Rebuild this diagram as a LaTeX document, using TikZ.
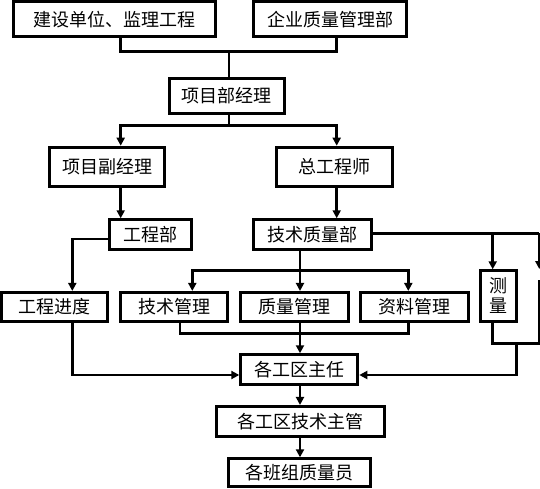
\documentclass[tikz,border=0pt]{standalone}
\usepackage{fontspec}
\newfontfamily\cjk{Noto Sans CJK SC}
\usetikzlibrary{arrows.meta}
\begin{document}
\begin{tikzpicture}[x=1pt,y=-1pt,
  box/.style={draw=black,line width=3pt,inner sep=0pt,fill=white,font=\cjk\fontsize{18}{21}\selectfont},
  conn/.style={draw=black,line width=2.8pt},
  arr/.style={conn,-{Triangle[width=8pt,length=8pt]}}]
\useasboundingbox (0,0) rectangle (540,489);
% boxes
\node[box,minimum width=202.6pt,minimum height=35.3pt] (b1) at (114.5,19.2) {建设单位、监理工程};
\node[box,minimum width=153pt,minimum height=35.3pt] (b2) at (330.3,19.2) {企业质量管理部};
\node[box,minimum width=115.3pt,minimum height=35.3pt] (b3) at (226.8,95.8) {项目部经理};
\node[box,minimum width=114.4pt,minimum height=39pt] (b4) at (107,166.7) {项目副经理};
\node[box,minimum width=116.3pt,minimum height=39pt] (b5) at (334.6,166.7) {总工程师};
\node[box,minimum width=82.6pt,minimum height=29.7pt] (b6) at (150.5,234.6) {工程部};
\node[box,minimum width=117.4pt,minimum height=29.7pt] (b7) at (312.5,234.6) {技术质量部};
\node[box,minimum width=106.3pt,minimum height=28.7pt] (b8) at (54.6,306.8) {工程进度};
\node[box,minimum width=107pt,minimum height=28.7pt] (b9) at (174.3,306.8) {技术管理};
\node[box,minimum width=107.7pt,minimum height=28.7pt] (b10) at (294.6,306.8) {质量管理};
\node[box,minimum width=107.7pt,minimum height=28.7pt] (b11) at (414.6,306.8) {资料管理};
\node[box,minimum width=36pt,minimum height=50.4pt,align=center,font=\cjk\fontsize{18}{20}\selectfont] (b15) at (498.8,296) {测\\量};
\node[box,minimum width=117pt,minimum height=29.7pt] (b12) at (299.3,369.6) {各工区主任};
\node[box,minimum width=167.7pt,minimum height=30.3pt] (b13) at (300.3,421.6) {各工区技术主管};
\node[box,minimum width=141.4pt,minimum height=28pt] (b14) at (299.5,472.8) {各班组质量员};
% junction coordinates
\coordinate (t1) at (120.7,51.7);
\coordinate (t2) at (336.7,51.7);
\coordinate (m1) at (229,51.7);
\coordinate (s1) at (229,125.3);
\coordinate (s2) at (120.7,125.3);
\coordinate (s3) at (336.7,125.3);
\coordinate (g1) at (72.3,239);
\coordinate (d0) at (300,270.7);
\coordinate (d1) at (192.3,270.7);
\coordinate (d2) at (408.3,270.7);
\coordinate (r0) at (539.3,233.3);
\coordinate (r1) at (492.7,233.3);
\coordinate (r2) at (539.3,269);
\coordinate (c1) at (180,333.3);
\coordinate (c2) at (408.3,333.3);
\coordinate (e1) at (72.3,375);
\coordinate (q1) at (492.7,343.3);
\coordinate (q2) at (540,343.3);
\coordinate (q3) at (516.7,343.3);
\coordinate (q4) at (516.7,375);
\coordinate (k1) at (539.3,280);
% connectors
\draw[conn] (b1.south -| t1) -- (t1) -- (t2) -- (b2.south -| t2);
\draw[conn] (m1) -- (m1 |- b3.north);
\draw[conn] (b3.south -| s1) -- (s1);
\draw[arr] (s1) -- (s2) -- (s2 |- b4.north);
\draw[arr] (s1) -- (s3) -- (s3 |- b5.north);
\draw[arr] (b4.south -| s2) -- (s2 |- b6.north);
\draw[arr] (b5.south -| s3) -- (s3 |- b7.north);
\draw[arr] (b6.west |- g1) -- (g1) -- (g1 |- b8.north);
\draw[arr] (b7.south -| d0) -- (d0 |- b10.north);
\draw[arr] (d0) -- (d1) -- (d1 |- b9.north);
\draw[arr] (d0) -- (d2) -- (d2 |- b11.north);
\draw[conn] (b7.east |- r0) -- (r0);
\draw[arr] (r1) -- (r1 |- b15.north);
\draw[arr] (r0) -- (r2);
\draw[conn] (b9.south -| c1) -- (c1) -- (c2) -- (b11.south -| c2);
\draw[arr] (b10.south -| d0) -- (d0 |- b12.north);
\draw[arr] (b8.south -| e1) -- (e1) -- (b12.west |- e1);
\draw[conn] (b15.south -| q1) -- (q1) -- (q2);
\draw[conn] (k1) -- (k1 |- q2);
\draw[arr] (q3) -- (q4) -- (b12.east |- q4);
\draw[arr] (b12.south -| d0) -- (d0 |- b13.north);
\draw[arr] (b13.south -| d0) -- (d0 |- b14.north);
\end{tikzpicture}
\end{document}
